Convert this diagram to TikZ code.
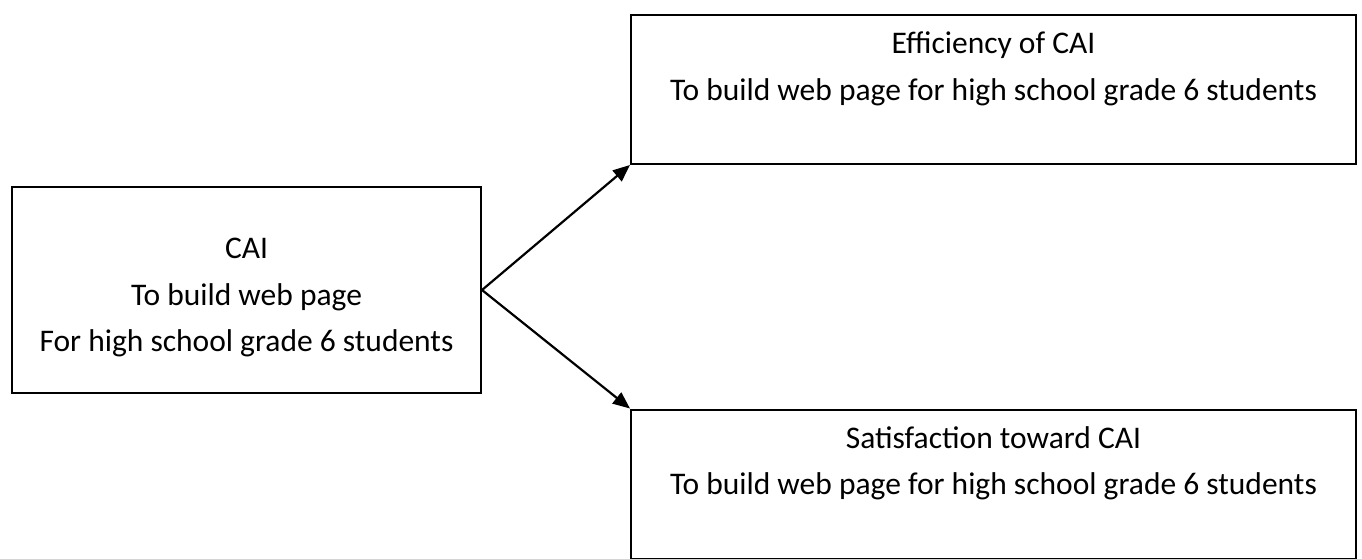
\documentclass[tikz,border=0pt]{standalone}
\usepackage{fontspec}
\setmainfont{Carlito}
\usepackage{tikz}
\usetikzlibrary{
  arrows.meta,
  positioning,
  calc
}

\begin{document}
\begin{tikzpicture}[
  x=1pt, y=-1pt,
  font=\fontsize{31.5}{46.5}\selectfont,
  box/.style={
    rectangle, draw=black, line width=2pt,
    align=center, inner sep=0pt
  },
  srcbox/.style={box, minimum width=469pt, minimum height=206pt},
  outbox/.style={box, minimum width=725pt, minimum height=149pt},
  arr/.style={-{Triangle[length=17pt,width=14pt]}, line width=2.2pt, black},
]
\useasboundingbox (0,0) rectangle (1362,558);

% CAI source
\node[srcbox] (cai) at (246.5,290) {%
  \rule{0pt}{36pt}CAI\\
  To build web page\\
  For high school grade 6 students
};

% Efficiency
\node[outbox] (eff) at (993.5,89.5) {%
  Efficiency of CAI\\
  To build web page for high school grade 6 students\\
  \mbox{}
};

% Satisfaction
\node[outbox] (sat) at (993.5,484) {%
  Satisfaction toward CAI\\
  To build web page for high school grade 6 students\\
  \mbox{}
};

% Arrows
\draw[arr] (cai.east) -- (eff.south west);
\draw[arr] (cai.east) -- (sat.north west);

\end{tikzpicture}
\end{document}
